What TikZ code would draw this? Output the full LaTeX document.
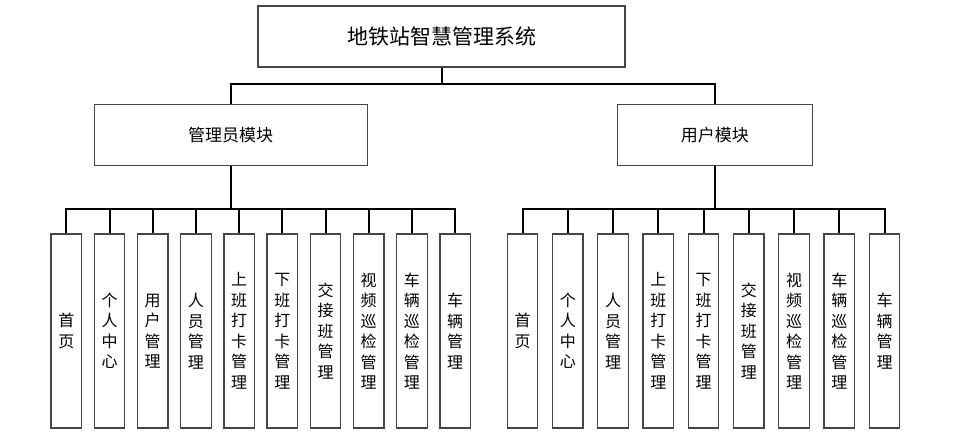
\documentclass[tikz,border=0pt]{standalone}
\usepackage{fontspec}
\usepackage{tikz}
\usetikzlibrary{positioning,calc}
\newfontfamily\cjk{Noto Sans CJK SC}
\definecolor{boxgray}{RGB}{70,70,70}

\begin{document}
\begin{tikzpicture}[
    x=1pt, y=-1pt,
    box/.style={draw=boxgray, line width=1.3pt, fill=white, inner sep=0pt, font=\cjk},
    topbox/.style={box, minimum width=367pt, minimum height=61pt, font=\cjk\fontsize{21}{24}\selectfont},
    modbox/.style={box, minimum height=61pt, font=\cjk\fontsize{17}{20}\selectfont},
    leaf/.style={box, minimum width=30.5pt, minimum height=194pt, align=center, font=\cjk\fontsize{16}{20.5}\selectfont},
    conn/.style={line width=2pt, black}
]
\useasboundingbox (0,0) rectangle (963,446);

% top and module boxes
\node[topbox] (sys) at (441.5,36.5) {地铁站智慧管理系统};
\node[modbox, minimum width=273pt] (admin) at (230.7,135.3) {管理员模块};
\node[modbox, minimum width=195pt] (user) at (714.8,135.3) {用户模块};

% admin leaves
\node[leaf] (a1) at (66.3,331) {首\\页};
\node[leaf] (a2) at (109.5,331) {个\\人\\中\\心};
\node[leaf] (a3) at (152.7,331) {用\\户\\管\\理};
\node[leaf] (a4) at (195.9,331) {人\\员\\管\\理};
\node[leaf] (a5) at (239.1,331) {上\\班\\打\\卡\\管\\理};
\node[leaf] (a6) at (282.3,331) {下\\班\\打\\卡\\管\\理};
\node[leaf] (a7) at (325.5,331) {交\\接\\班\\管\\理};
\node[leaf] (a8) at (368.7,331) {视\\频\\巡\\检\\管\\理};
\node[leaf] (a9) at (411.9,331) {车\\辆\\巡\\检\\管\\理};
\node[leaf] (a10) at (455.1,331) {车\\辆\\管\\理};

% user leaves
\node[leaf] (u1) at (522.5,331) {首\\页};
\node[leaf] (u2) at (567.75,331) {个\\人\\中\\心};
\node[leaf] (u3) at (613,331) {人\\员\\管\\理};
\node[leaf] (u4) at (658.25,331) {上\\班\\打\\卡\\管\\理};
\node[leaf] (u5) at (703.5,331) {下\\班\\打\\卡\\管\\理};
\node[leaf] (u6) at (748.75,331) {交\\接\\班\\管\\理};
\node[leaf] (u7) at (794,331) {视\\频\\巡\\检\\管\\理};
\node[leaf] (u8) at (839.25,331) {车\\辆\\巡\\检\\管\\理};
\node[leaf] (u9) at (884.5,331) {车\\辆\\管\\理};

% junctions
\coordinate (j0) at (441.5,84);
\coordinate (ja) at (230.7,209.3);
\coordinate (ju) at (714.8,209.3);

% connectors
\draw[conn] (sys.south) -- (j0);
\draw[conn] (admin.north) |- (j0) -| (user.north);
\draw[conn] (admin.south) -- (ja);
\draw[conn] (user.south) -- (ju);
\draw[conn] (a1.north) |- (ja) -| (a10.north);
\draw[conn] (u1.north) |- (ju) -| (u9.north);
\foreach \n in {a2,a3,a4,a5,a6,a7,a8,a9}
  \draw[conn] (\n.north) -- (\n.north |- ja);
\foreach \n in {u2,u3,u4,u5,u6,u7,u8}
  \draw[conn] (\n.north) -- (\n.north |- ju);
\end{tikzpicture}
\end{document}
